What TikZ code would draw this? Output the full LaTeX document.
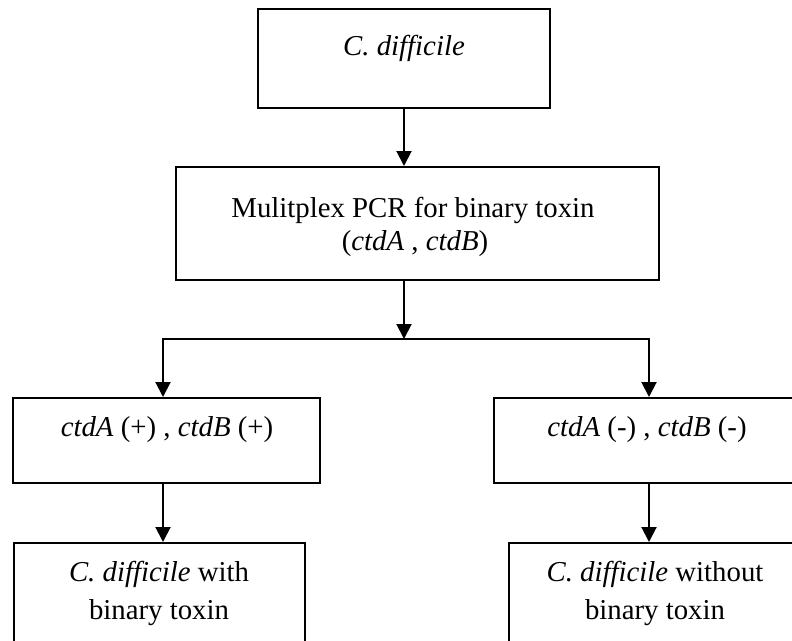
\documentclass[tikz,border=0pt]{standalone}
\usepackage{fontspec}
\setmainfont{Liberation Serif}
\usetikzlibrary{arrows.meta}
\begin{document}
\begin{tikzpicture}[x=1pt,y=-1pt,
  box/.style={draw, line width=2pt, rectangle, inner sep=0pt},
  lbl/.style={anchor=base, inner sep=0pt, font=\fontsize{28.8}{33}\selectfont},
  wire/.style={line width=2pt},
  link/.style={wire, -{Triangle[length=15pt,width=15pt]}},
  ]
\useasboundingbox (0,0) rectangle (792,640);
\clip (0,0) rectangle (792,640);

% boxes
\node[box, minimum width=292pt, minimum height=99pt]  (top) at (404,58.5) {};
\node[box, minimum width=483pt, minimum height=113pt] (mid) at (417.5,223.5) {};
\node[box, minimum width=307pt, minimum height=85pt]  (L)   at (166.5,440.5) {};
\node[box, minimum width=309pt, minimum height=85pt]  (R)   at (648.5,440.5) {};
\node[box, minimum width=291pt, minimum height=120pt] (BL)  at (159.5,603) {};
\node[box, minimum width=291pt, minimum height=120pt] (BR)  at (654.5,603) {};

% texts
\node[lbl] (topT)  at (404,55)  {\textit{C. difficile}};
\node[lbl] (midT1) at (413,217) {Mulitplex PCR for binary toxin};
\node[lbl] (midT2) at (415,250) {(\textit{ctdA} , \textit{ctdB})};
\node[lbl] (LT)    at (167,436) {\textit{ctdA} (+) , \textit{ctdB} (+)};
\node[lbl] (RT)    at (647,436) {\textit{ctdA} (-) , \textit{ctdB} (-)};
\node[lbl] (BLT1)  at (159,581) {\textit{C. difficile} with};
\node[lbl] (BLT2)  at (159,619) {binary toxin};
\node[lbl] (BRT1)  at (655,581) {\textit{C. difficile} without};
\node[lbl] (BRT2)  at (655,619) {binary toxin};

% connectors
\coordinate (j)  at (404,339);
\coordinate (jl) at (163,339);
\coordinate (jr) at (649,339);

\draw[link] (top.south) -- (top.south |- mid.north);
\draw[link] (j |- mid.south) -- (j);
\draw[wire, {Triangle[length=15pt,width=15pt]}-{Triangle[length=15pt,width=15pt]}]
  (jl |- L.north) -- (jl) -- (jr) -- (jr |- R.north);
\draw[link] (jl |- L.south) -- (jl |- BL.north);
\draw[link] (jr |- R.south) -- (jr |- BR.north);
\end{tikzpicture}
\end{document}
